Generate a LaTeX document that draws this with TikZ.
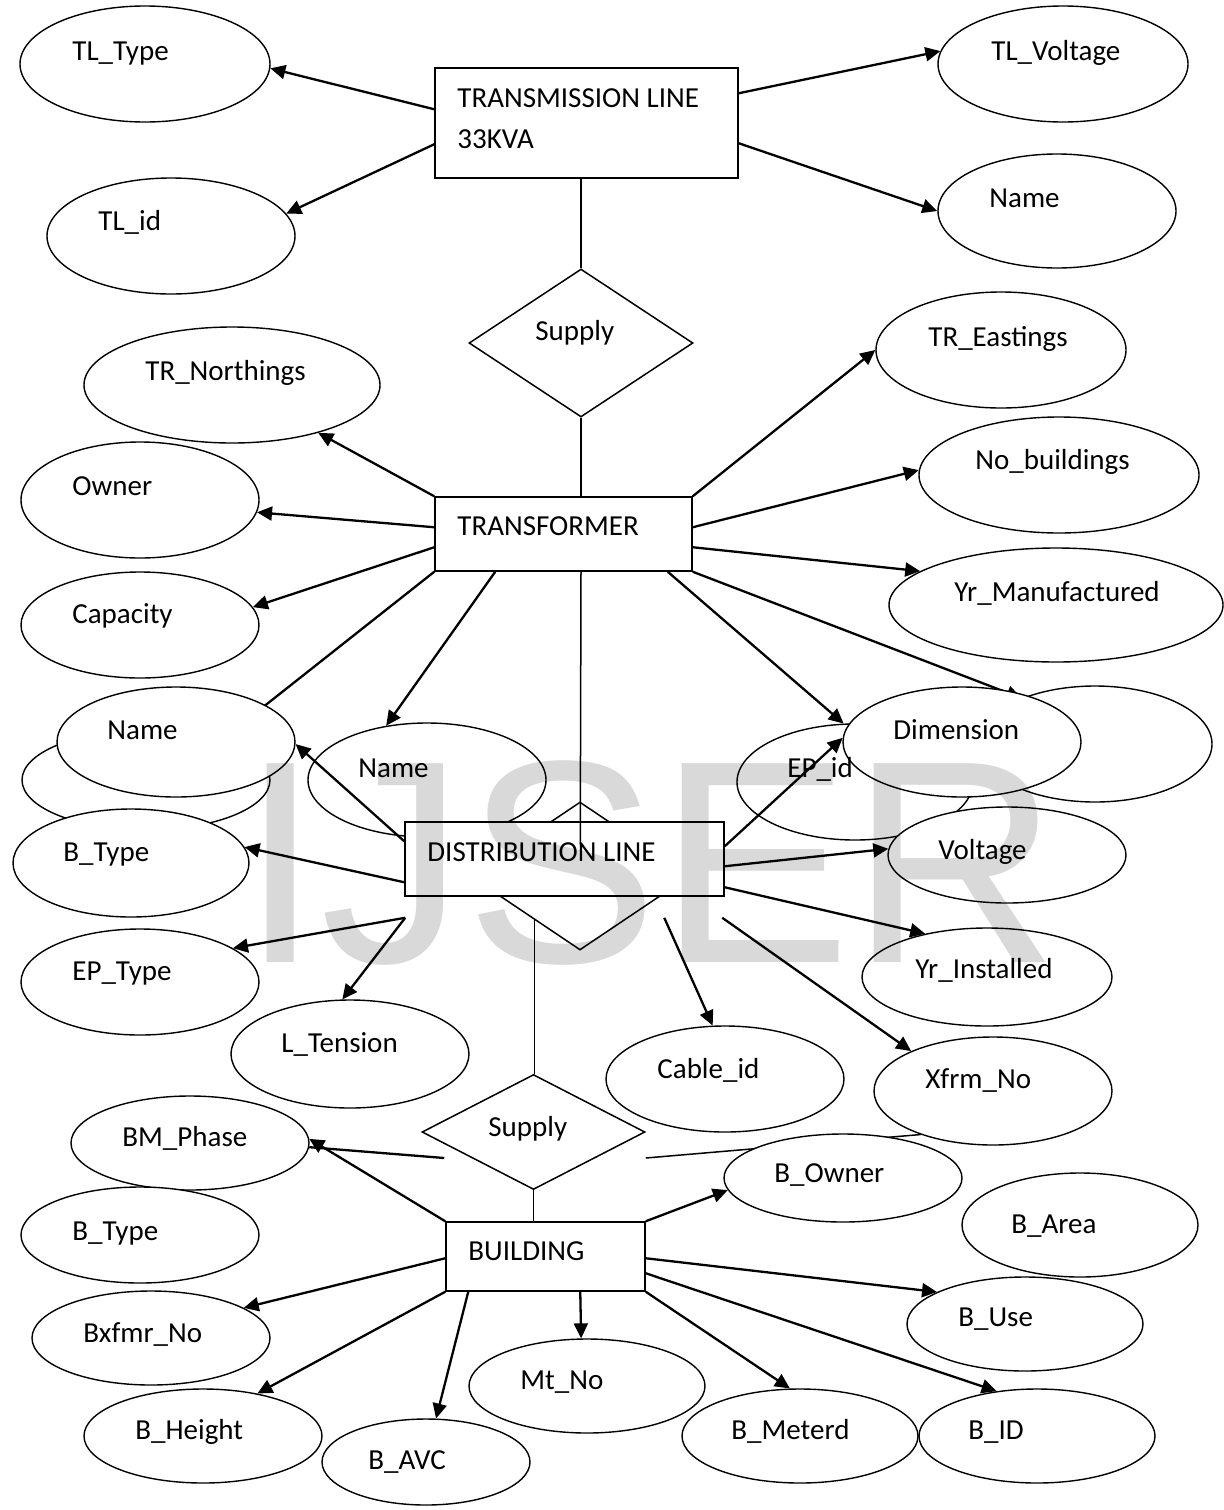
\documentclass[tikz,border=0pt]{standalone}
\usepackage{fontspec}
\setmainfont{Carlito}
\newfontfamily\wmfont{Liberation Sans}
\usetikzlibrary{shapes.geometric,arrows.meta,calc}
\newcommand\mkattr[5]{\node[attr,minimum width=#4pt,minimum height=#5pt] (#1) at (#2,#3) {};}
\begin{document}
\begin{tikzpicture}[x=0.5pt,y=-0.5pt,
  attr/.style={draw,ellipse,fill=white,line width=0.7pt,inner sep=0pt},
  ent/.style={draw,rectangle,fill=white,line width=0.75pt,inner sep=0pt},
  rel/.style={draw,diamond,fill=white,line width=0.75pt,inner sep=0pt},
  txt/.style={anchor=base west,inner sep=0pt,font=\fontsize{14.5}{17}\selectfont},
  arr/.style={line width=1.15pt,-{Triangle[length=7.5pt,width=7pt]}},
  plain/.style={line width=0.75pt},
  thk/.style={line width=1.15pt}]
\useasboundingbox (0,0) rectangle (1224,1510);

% ---- hidden / underlying shapes ----
\mkattr{hl}{146}{780}{124}{50}
\mkattr{hr}{1095}{744}{117}{58}
\node[rel,minimum width=110pt,minimum height=74pt] (s2) at (580,876) {};
\mkattr{epid}{855}{782}{118}{58}
\mkattr{namem}{427}{780}{119}{57}
\mkattr{xfrm}{993}{1091}{119}{54}
\node[rel,minimum width=111.5pt,minimum height=57.5pt] (s3) at (533.5,1132) {};

% other attributes
\mkattr{tltype}{145}{64}{125}{58}
\mkattr{tlid}{171}{236}{124}{58}
\mkattr{tlvolt}{1063}{64}{125}{58}
\mkattr{nametr}{1057}{211}{119}{57}
\mkattr{trnorth}{232}{385}{148}{58}
\mkattr{owner}{140}{500}{119}{58}
\mkattr{capacity}{140}{625}{119}{53}
\mkattr{treast}{1001}{350}{125}{58}
\mkattr{nobuild}{1059}{475}{140}{58}
\mkattr{yrman}{1056}{605}{167}{57}
\mkattr{eptype}{140}{982}{119}{53}
\mkattr{lten}{350}{1054}{119}{54}
\mkattr{yrinst}{987}{977}{125}{49}
\mkattr{cable}{725}{1079}{119}{53}
\mkattr{bmph}{190}{1143}{119}{47}
\mkattr{btypeb}{140}{1235}{119}{48}
\mkattr{bxfmr}{151}{1338}{119}{47}
\mkattr{bheight}{203}{1436}{119}{47}
\mkattr{bavc}{426}{1462}{104}{43}
\mkattr{mtno}{587}{1386}{118}{47}
\mkattr{bmeter}{800}{1436}{118}{47}
\mkattr{bid}{1037}{1436}{118}{47}
\mkattr{buse}{1025}{1324}{118}{47}
\mkattr{barea}{1080}{1225}{118}{52}

% ---- rectangles needed for the hidden connectors ----
\node[ent,minimum width=128.5pt,minimum height=37pt] (tr) at (563.5,534) {};

% connectors that are partly covered
\draw[arr] (tr.south west) -- (hl.28);
\draw[arr] (tr.south east) -- (hr.148);
\draw[plain] ($(s3.east)+(0,26)$) -- (xfrm.211);

% covering attributes
\mkattr{namel}{176}{742}{119}{55}
\mkattr{btypea}{131}{863}{118}{54}
\mkattr{dim}{962}{742}{119}{55}
\mkattr{volt}{1007}{855}{119}{48}
\mkattr{bowner}{843}{1178}{119}{44}

% ---- entities and relationships ----
\node[ent,minimum width=151.5pt,minimum height=55pt] (tl) at (586.5,123) {};
\node[ent,minimum width=159.5pt,minimum height=37pt] (dl) at (564.5,859) {};
\node[ent,minimum width=99.5pt,minimum height=34.5pt] (bl) at (545.5,1256.5) {};
\node[rel,minimum width=112pt,minimum height=74pt] (s1) at (581,343) {};

% ---- texts ----
\node[txt] (t-tltype) at (72,60) {TL\_Type};
\node[txt] (t-tlid) at (98,230) {TL\_id};
\node[txt] (t-tl1) at (457,107) {TRANSMISSION LINE};
\node[txt] (t-tl2) at (457,148) {33KVA};
\node[txt] (t-tlvolt) at (991,60) {TL\_Voltage};
\node[txt] (t-nametr) at (989,207) {Name};
\node[txt] (t-s1) at (535,340) {Supply};
\node[txt] (t-trnorth) at (145,380) {TR\_Northings};
\node[txt] (t-owner) at (72,495) {Owner};
\node[txt] (t-capacity) at (72,623) {Capacity};
\node[txt] (t-tr) at (457,535) {TRANSFORMER};
\node[txt] (t-treast) at (928,346) {TR\_Eastings};
\node[txt] (t-nobuild) at (975,469) {No\_buildings};
\node[txt] (t-yrman) at (954,601) {Yr\_Manufactured};
\node[txt] (t-namel) at (107,739) {Name};
\node[txt] (t-namem) at (358,777) {Name};
\node[txt] (t-btypea) at (63,861) {B\_Type};
\node[txt] (t-dim) at (893,739) {Dimension};
\node[txt] (t-epid) at (787,777) {EP\_id};
\node[txt] (t-volt) at (938,859) {Voltage};
\node[txt] (t-dl) at (427,861) {DISTRIBUTION LINE};
\node[txt] (t-eptype) at (72,980) {EP\_Type};
\node[txt] (t-lten) at (281,1052) {L\_Tension};
\node[txt] (t-s3) at (488,1136) {Supply};
\node[txt] (t-bmph) at (122,1146) {BM\_Phase};
\node[txt] (t-yrinst) at (915,978) {Yr\_Installed};
\node[txt] (t-cable) at (657,1078) {Cable\_id};
\node[txt] (t-xfrm) at (925,1088) {Xfrm\_No};
\node[txt] (t-bowner) at (774,1182) {B\_Owner};
\node[txt] (t-btypeb) at (72,1240) {B\_Type};
\node[txt] (t-bl) at (468,1260) {BUILDING};
\node[txt] (t-bxfmr) at (83,1342) {Bxfmr\_No};
\node[txt] (t-bheight) at (135,1439) {B\_Height};
\node[txt] (t-bavc) at (368,1469) {B\_AVC};
\node[txt] (t-mtno) at (520,1389) {Mt\_No};
\node[txt] (t-barea) at (1011,1233) {B\_Area};
\node[txt] (t-buse) at (958,1326) {B\_Use};
\node[txt] (t-bmeter) at (731,1439) {B\_Meterd};
\node[txt] (t-bid) at (968,1439) {B\_ID};

% ---- connectors ----
% transmission line
\draw[arr] ($(tl.north west)+(0,42)$) -- (tltype.-2);
\draw[arr] ($(tl.north west)+(0,77)$) -- (tlid.11);
\draw[arr] ($(tl.north east)+(0,26)$) -- (tlvolt.174);
\draw[arr] ($(tl.north east)+(0,76)$) -- (nametr.180);
\draw[plain] (s1.north |- tl.south) -- (s1.north);
\draw[plain] (s1.south) -- (s1.south |- tr.north);
% transformer
\draw[arr] (tr.north west) -- (trnorth.-29);
\draw[arr] ($(tr.north west)+(0,31)$) -- (owner.-6);
\draw[arr] ($(tr.north west)+(0,51)$) -- (capacity.9);
\draw[arr] ($(tr.south west)+(61,0)$) -- (namem.127);
\draw[arr] ($(tr.south east)+(-25,0)$) -- (epid.101);
\draw[arr] (tr.north east) -- (treast.180);
\draw[arr] ($(tr.north east)+(0,31)$) -- (nobuild.178);
\draw[arr] ($(tr.north east)+(0,51)$) -- (yrman.166.5);
\coordinate (vend) at ($(dl.north west)+(176,23)$);
\draw[plain] (s1.south |- tr.south) -- (vend);
% distribution line
\draw[arr] ($(dl.north west)+(0,20)$) -- (namel.-1);
\draw[arr] ($(dl.north east)+(0,25)$) -- (dim.178);
\draw[arr] ($(dl.north west)+(0,61)$) -- (btypea.8);
\draw[arr] ($(dl.north east)+(0,45)$) -- (volt.177);
\draw[arr] ($(dl.north east)+(0,66)$) -- (yrinst.145);
\coordinate (dlA) at ($(dl.south west)+(1,21)$);
\coordinate (dlB) at ($(dl.south west)+(260,21)$);
\coordinate (dlC) at ($(dl.south west)+(318,21)$);
\draw[arr] (dlA) -- (eptype.20);
\draw[arr] (dlA) -- (lten.98);
\draw[arr] (dlB) -- (cable.103);
\draw[arr] (dlC) -- (xfrm.154);
\draw[plain] (s2.224) -- (s2.224 |- s3.north);
% building
\draw[plain] (s3.south) -- (s3.south |- bl.north);
\draw[thk] ($(s3.west)+(23,26)$) -- (bmph.-2);
\draw[arr] (bl.north west) -- (bmph.2);
\draw[arr] (bl.north east) -- (bowner.186);
\draw[arr] ($(bl.north west)+(0,37)$) -- (bxfmr.18);
\draw[arr] (bl.south west) -- (bheight.38);
\draw[arr] ($(bl.south west)+(23,0)$) -- (bavc.77);
\draw[arr] ($(bl.south west)+(135,0)$) -- (mtno.97);
\draw[arr] (bl.south east) -- (bmeter.102);
\draw[arr] ($(bl.north east)+(0,52)$) -- (bid.132);
\draw[arr] ($(bl.north east)+(0,37)$) -- (buse.160);

% ---- watermark ----
\begin{scope}[blend mode=multiply]
\node[anchor=base west,inner sep=0pt,text=black!15,font=\wmfont\fontsize{144.5}{144.5}\selectfont] (wm) at (240,962) {IJSER};
\end{scope}
\end{tikzpicture}
\end{document}
